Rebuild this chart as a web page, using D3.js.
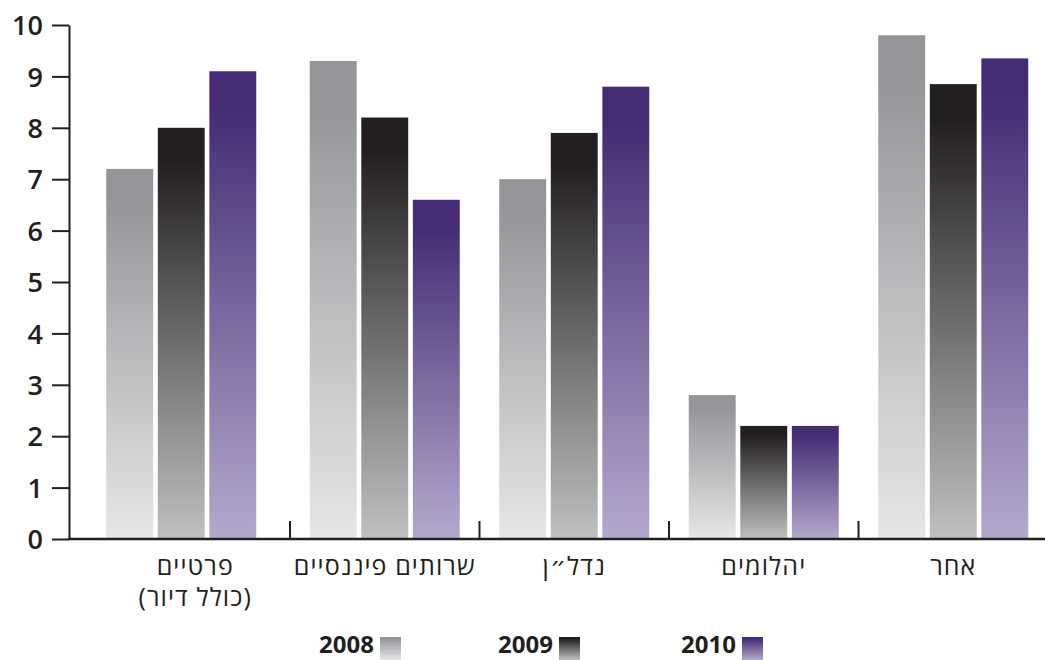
<!DOCTYPE html>
<html lang="he">
<head>
<meta charset="utf-8">
<script src="https://cdn.jsdelivr.net/npm/d3@7"></script>
<style>
  html, body { margin: 0; padding: 0; background: #fff; }
  svg { display: block; }
  text { font-family: "Open Sans", "DejaVu Sans", sans-serif; fill: #231f20; }
</style>
</head>
<body>
<svg id="chart" width="1045" height="660"></svg>
<script>
// Categories (first entry has a second line)
const categories = ["פרטיים|(כולל דיור)", "שרותים פיננסיים", "נדל״ן", "יהלומים", "אחר"];
const years = ["2008", "2009", "2010"];
const values2008 = [7.2, 9.3, 7.0, 2.8, 9.8];
const values2009 = [8.0, 8.2, 7.9, 2.2, 8.85];
const values2010 = [9.1, 6.6, 8.8, 2.2, 9.35];
const yTicks = [0, 1, 2, 3, 4, 5, 6, 7, 8, 9, 10];

const seriesValues = [values2008, values2009, values2010];
const gradStops = [
  ["#939598", "#939598", "#e6e7e8"],
  ["#231f20", "#231f20", "#bfc0c2"],
  ["#452c74", "#452c74", "#b4a9cd"]
];

const svg = d3.select("#chart");
const ink = "#231f20";

// gradient fills, one per year
const defs = svg.append("defs");
years.forEach((yr, i) => {
  const g = defs.append("linearGradient")
    .attr("id", "grad" + yr)
    .attr("x1", 0).attr("y1", 0).attr("x2", 0).attr("y2", 1);
  g.append("stop").attr("offset", "0%").attr("stop-color", gradStops[i][0]);
  g.append("stop").attr("offset", "8%").attr("stop-color", gradStops[i][1]);
  g.append("stop").attr("offset", "100%").attr("stop-color", gradStops[i][2]);
});

const y = d3.scaleLinear().domain([0, 10]).range([539, 25]);
const x0 = d3.scaleBand().domain(d3.range(categories.length)).range([100.5, 1048]).padding(0);
const groupWidth = 150;
const x1 = d3.scaleBand().domain(d3.range(years.length)).range([0, groupWidth]).paddingInner(0.09).paddingOuter(0);
// the first cluster sits closer to the y axis than the band centre
const groupShift = [-14, 0, 0, 0, 0];
const groupX = i => x0(i) + (x0.bandwidth() - groupWidth) / 2 + groupShift[i];

// bars
const groups = svg.append("g").selectAll("g")
  .data(categories)
  .join("g")
  .attr("transform", (d, i) => `translate(${groupX(i)},0)`);

groups.selectAll("rect")
  .data((d, i) => seriesValues.map((vals, s) => ({ s, v: vals[i] })))
  .join("rect")
  .attr("x", d => x1(d.s))
  .attr("width", x1.bandwidth())
  .attr("y", d => y(d.v))
  .attr("height", d => y(0) - y(d.v))
  .attr("fill", d => `url(#grad${years[d.s]})`);

// y axis
const yAxis = svg.append("g")
  .attr("transform", "translate(69,0)")
  .call(d3.axisLeft(y).tickValues(yTicks).tickFormat(d3.format("d")).tickSize(17).tickSizeOuter(0).tickPadding(9));
yAxis.select(".domain").attr("stroke", ink).attr("stroke-width", 2);
yAxis.selectAll(".tick line").attr("stroke", ink).attr("stroke-width", 2);
yAxis.selectAll(".tick text")
  .attr("font-size", 27).attr("font-weight", 600).attr("fill", ink)
  .attr("dy", "0.36em")
  .style("font-family", "'Open Sans', sans-serif");

// baseline
svg.append("line")
  .attr("x1", 68).attr("x2", 1045)
  .attr("y1", y(0)).attr("y2", y(0))
  .attr("stroke", ink).attr("stroke-width", 2.5);

// separators between categories
svg.append("g").selectAll("line")
  .data(d3.range(1, categories.length))
  .join("line")
  .attr("x1", i => x0(i)).attr("x2", i => x0(i))
  .attr("y1", y(0)).attr("y2", y(0) - 18)
  .attr("stroke", ink).attr("stroke-width", 2);

// category labels
const labels = svg.append("g").selectAll("text")
  .data(categories)
  .join("text")
  .attr("direction", "rtl")
  .attr("text-anchor", "middle")
  .attr("font-size", 25)
  .attr("letter-spacing", 1.1)
  .attr("x", (d, i) => x0(i) + x0.bandwidth() / 2)
  .attr("y", 575);
labels.each(function (d) {
  const parts = d.split("|");
  const t = d3.select(this);
  parts.forEach((p, k) => {
    t.append("tspan")
      .attr("x", t.attr("x"))
      .attr("dy", k === 0 ? 0 : 31)
      .text(p);
  });
});

// legend
const legendX = [374, 553, 736];
const legend = svg.append("g").selectAll("g")
  .data(years)
  .join("g")
  .attr("transform", (d, i) => `translate(${legendX[i]},0)`);
legend.append("text")
  .attr("text-anchor", "end")
  .attr("x", 0).attr("y", 653)
  .attr("font-size", 24).attr("font-weight", 700)
  .text(d => d);
legend.append("rect")
  .attr("x", 6).attr("y", 637)
  .attr("width", 21).attr("height", 23)
  .attr("fill", d => `url(#grad${d})`);
</script>
</body>
</html>
